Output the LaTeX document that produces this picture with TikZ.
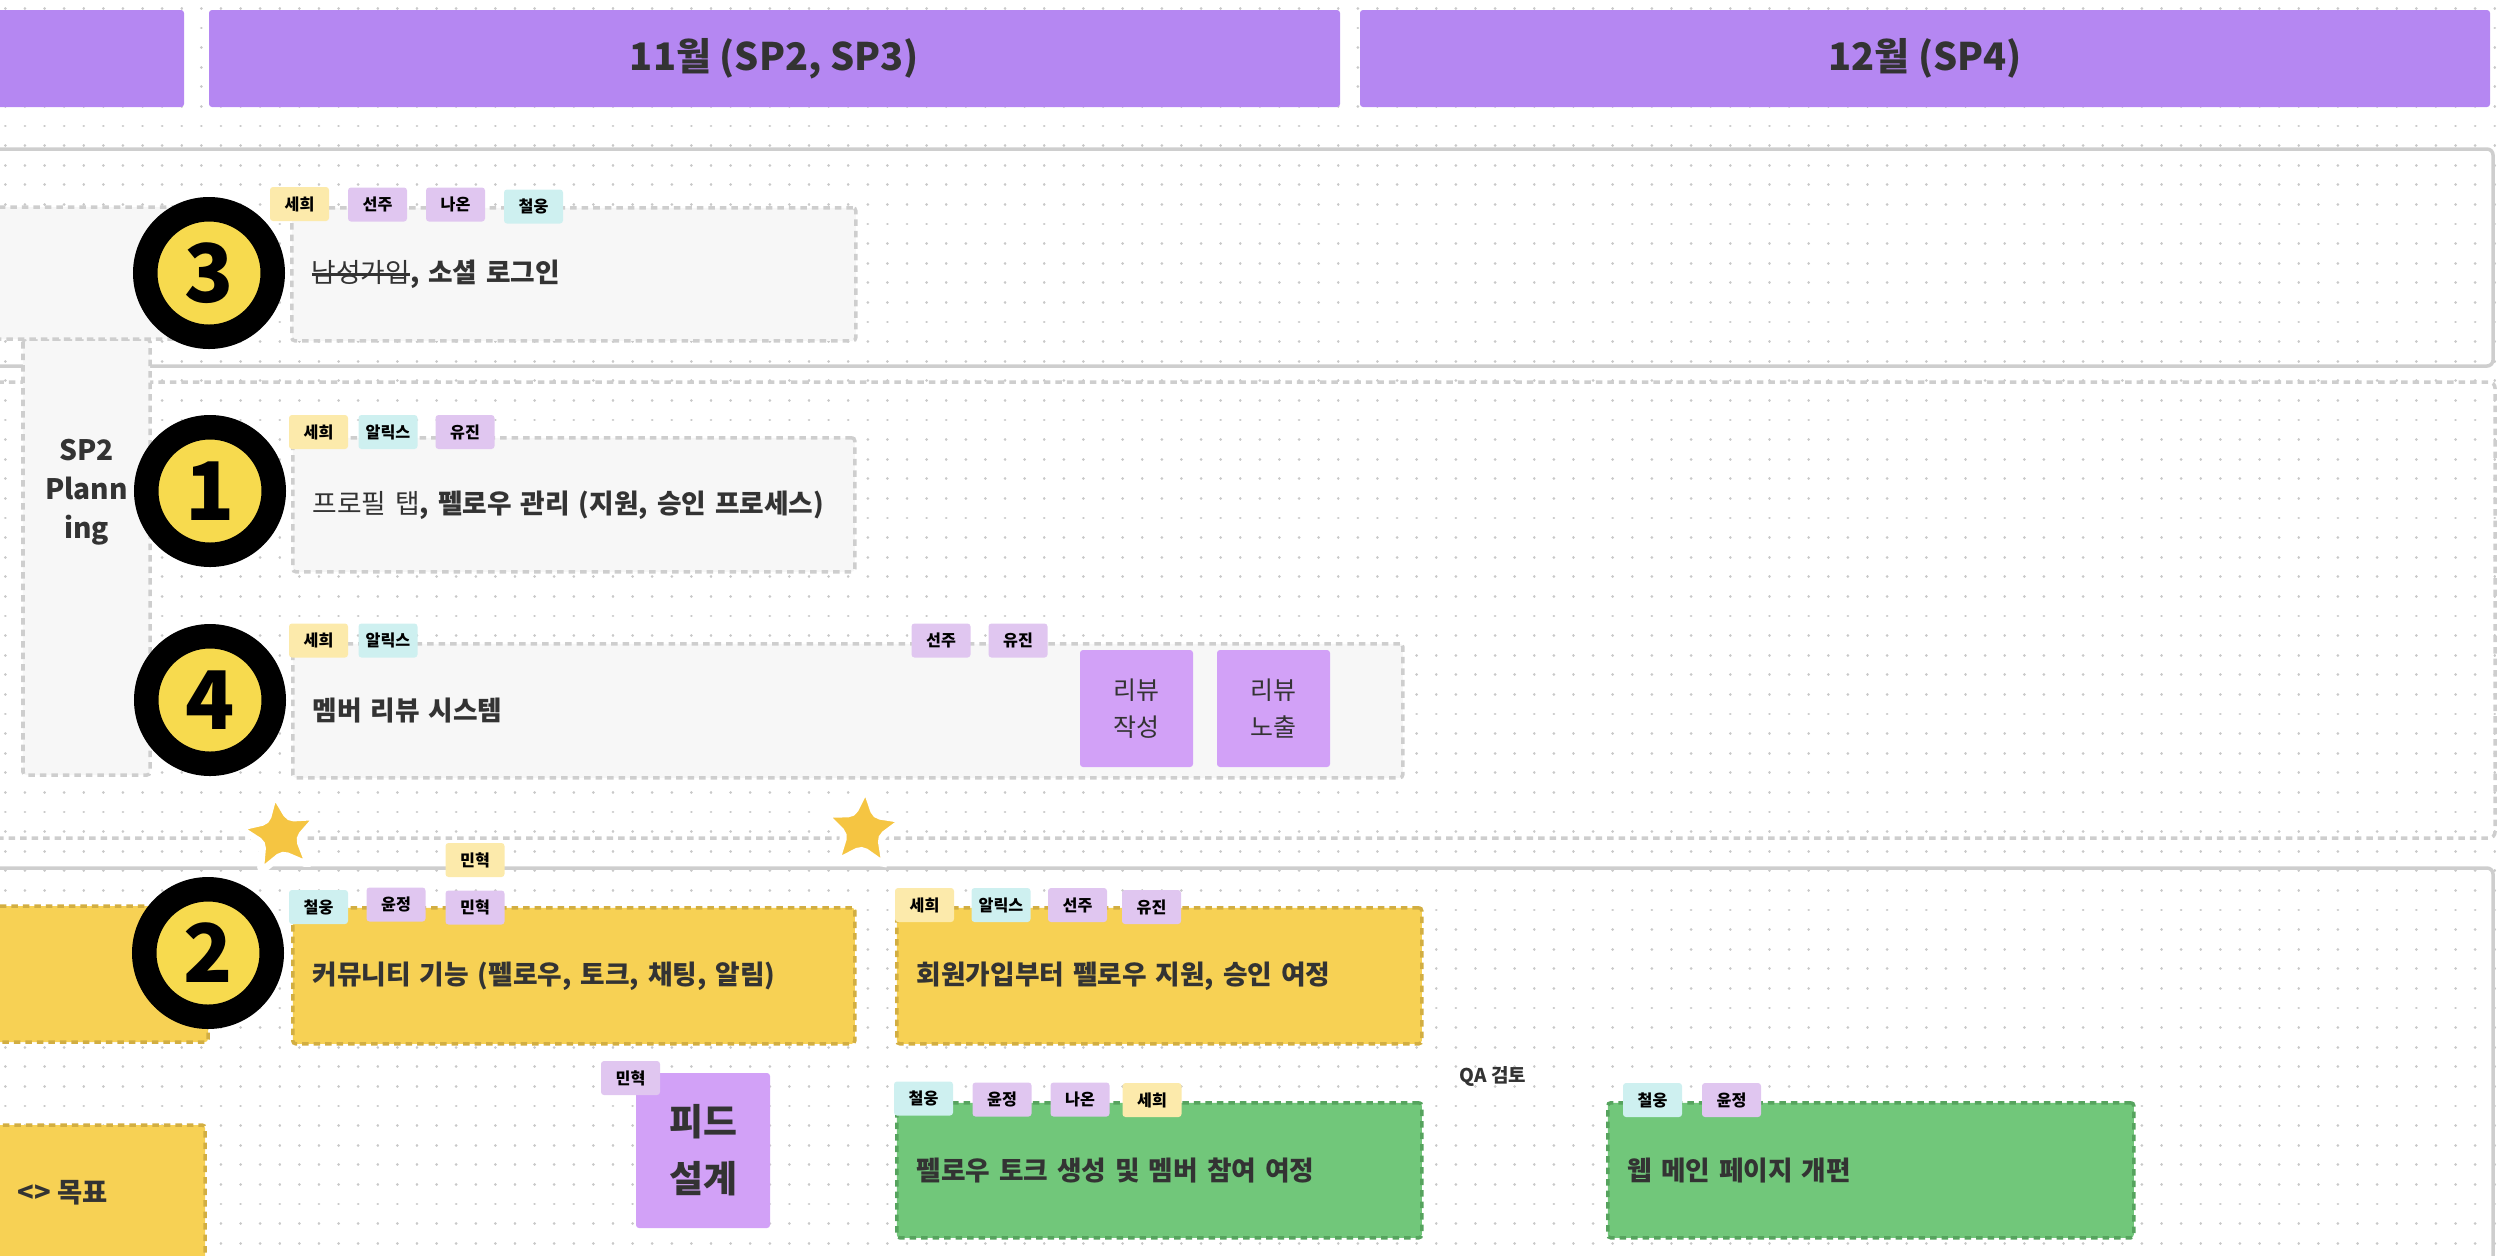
\documentclass[tikz,border=0pt]{standalone}
\usepackage{fontspec}
\setmainfont{Noto Sans CJK KR}
\usepackage{xcolor}
\usepackage{tikz}
\usetikzlibrary{shapes.geometric}
\definecolor{ink}{HTML}{333333}
\definecolor{headpurple}{HTML}{B587F2}
\definecolor{lanegrey}{HTML}{CECECE}
\definecolor{dotgrey}{HTML}{C9C9C9}
\definecolor{boxgrey}{HTML}{F7F7F7}
\definecolor{taskyellow}{HTML}{F7D154}
\definecolor{taskyellowline}{HTML}{D2AE42}
\definecolor{taskgreen}{HTML}{71C77A}
\definecolor{taskgreenline}{HTML}{56A35E}
\definecolor{featpurple}{HTML}{D2A1F7}
\definecolor{tagyellow}{HTML}{FCEAAB}
\definecolor{tagpurple}{HTML}{E0C6F0}
\definecolor{tagcyan}{HTML}{CEF0F0}
\definecolor{badgeyellow}{HTML}{F7DA4E}
\definecolor{stargold}{HTML}{F5C542}
\newcommand{\fsz}[2]{\fontsize{#1}{#2}\selectfont}
\newcommand{\strk}[1]{\setbox0=\hbox{#1}\rlap{\rule[0.25em]{\wd0}{0.09em}}\box0}

\begin{document}
\begin{tikzpicture}[x=1cm,y=-1cm,
  head/.style={fill=headpurple,rounded corners=0.03cm},
  lane/.style={draw=lanegrey,line width=0.035cm,rounded corners=0.06cm},
  dashline/.style={dash pattern=on 0.065cm off 0.05cm},
  greybox/.style={draw=lanegrey,fill=boxgrey,line width=0.035cm,dashline,rounded corners=0.03cm},
  yellowbox/.style={draw=taskyellowline,fill=taskyellow,line width=0.035cm,dashline,rounded corners=0.03cm},
  greenbox/.style={draw=taskgreenline,fill=taskgreen,line width=0.035cm,dashline,rounded corners=0.03cm},
  task/.style={anchor=north west,inner xsep=0.2cm,inner ysep=0pt,align=left,text=ink,font=\fsz{7.6pt}{9pt}},
  tag/.style={minimum width=0.59cm,minimum height=0.34cm,inner sep=0pt,rounded corners=0.03cm,text=black,font=\fsz{4.6pt}{5pt}\bfseries},
  badge/.style={circle,fill=badgeyellow,draw=black,line width=0.245cm,minimum size=1.275cm,inner sep=0pt,text=black,font=\fsz{23pt}{23pt}\bfseries},
  starmark/.style={star,star points=5,star point ratio=2.2,fill=stargold,draw=white,line width=0.07cm,minimum size=0.84cm,inner sep=0pt,rounded corners=0.05cm},
  feat/.style={fill=featpurple,rounded corners=0.03cm,align=center,text=ink,inner sep=0pt}]
  \useasboundingbox (0,0) rectangle (25,12.55);

  \foreach \j in {0,...,63}
    \draw[dotgrey,line width=0.028cm,line cap=round,dash pattern=on 0.001cm off 0.195cm]
      (0.053,{0.084+0.196*\j}) -- (25,{0.084+0.196*\j});

  \fill[head] (-0.1,0.10) rectangle (1.84,1.07);
  \node[head,minimum width=11.31cm,minimum height=0.97cm,text=ink,font=\fsz{10.8pt}{12pt}\bfseries]
    (nov) at (7.745,0.585) {11월 (SP2, SP3)};
  \node[head,minimum width=11.30cm,minimum height=0.97cm,text=ink,font=\fsz{10.8pt}{12pt}\bfseries]
    (dec) at (19.25,0.585) {12월 (SP4)};

  \draw[lane] (-0.5,1.49) rectangle (24.93,3.66);
  \draw[lane,dashline] (-0.5,3.82) rectangle (24.95,8.38);
  \draw[lane] (-0.5,8.68) rectangle (24.93,13.0);

  \draw[greybox] (0.23,3.39) rectangle (1.50,7.75);
  \draw[greybox] (-0.5,2.07) rectangle (2.0,3.39);
  \node[align=center,text=ink,font=\fsz{8pt}{11.1pt}\bfseries] (plan) at (0.865,4.92) {SP2\\Plann\\ing};

  \node[greybox,task,text width=5.24cm,minimum height=1.33cm] (box3) at (2.90,2.06)
    {\strk{남성가입}\textbf{, 소셜 로그인}};
  \node[greybox,task,text width=5.22cm,minimum height=1.34cm] (box1) at (2.91,4.36)
    {프로필 탭\textbf{, 펠로우 관리 (지원, 승인 프로세스)}};
  \node[greybox,task,text width=10.70cm,minimum height=1.34cm] (box4) at (2.91,6.42)
    {\textbf{멤버 리뷰 시스템}};
  \node[feat,minimum width=1.13cm,minimum height=1.17cm,font=\fsz{7.1pt}{10.5pt}] (write) at (11.365,7.085) {리뷰\\작성};
  \node[feat,minimum width=1.13cm,minimum height=1.17cm,font=\fsz{7.1pt}{10.5pt}] (show) at (12.735,7.085) {리뷰\\노출};

  \draw[yellowbox] (-0.5,9.06) rectangle (2.08,10.42);
  \node[yellowbox,task,text width=5.22cm,minimum height=1.36cm] (box2) at (2.91,9.06)
    {\textbf{커뮤니티 기능 (펠로우, 토크, 채팅, 알림)}};
  \node[yellowbox,task,text width=4.85cm,minimum height=1.36cm] (join) at (8.95,9.06)
    {\textbf{회원가입부터 펠로우 지원, 승인 여정}};

  \draw[yellowbox] (-0.5,11.25) rectangle (2.05,13.0);
  \node[anchor=west,text=ink,font=\fsz{7.8pt}{9pt}\bfseries] (goal) at (0.05,11.93) {<> 목표};
  \node[feat,minimum width=1.34cm,minimum height=1.55cm,font=\fsz{10.5pt}{16.2pt}\bfseries] (feed) at (7.03,11.505) {피드\\설계};
  \node[greenbox,task,text width=4.85cm,minimum height=1.35cm] (talk) at (8.95,11.01)
    {\textbf{펠로우 토크 생성 및 멤버 참여 여정}};
  \node[text=ink,font=\fsz{5.4pt}{6pt}\bfseries] (qa) at (14.93,10.76) {QA 검토};
  \node[greenbox,task,text width=4.86cm,minimum height=1.35cm] (web) at (16.06,11.01)
    {\textbf{웹 메인 페이지 개편}};

  \node[badge] (n3) at (2.09,2.73) {3};
  \node[badge] (n1) at (2.10,4.91) {1};
  \node[badge] (n4) at (2.10,7.00) {4};
  \node[badge] (n2) at (2.08,9.53) {2};

  \foreach \n/\x/\y/\c [count=\i] in {세희/2.995/2.04/tagyellow, 선주/3.775/2.045/tagpurple,
      나온/4.555/2.045/tagpurple, 철웅/5.335/2.065/tagcyan}
    \node[tag,fill=\c] (a\i) at (\x,\y) {\n};
  \foreach \n/\x/\y/\c [count=\i] in {세희/3.185/4.32/tagyellow, 알릭스/3.88/4.32/tagcyan,
      유진/4.65/4.32/tagpurple}
    \node[tag,fill=\c] (b\i) at (\x,\y) {\n};
  \foreach \n/\x/\y/\c [count=\i] in {세희/3.185/6.405/tagyellow, 알릭스/3.88/6.405/tagcyan,
      선주/9.41/6.405/tagpurple, 유진/10.18/6.405/tagpurple}
    \node[tag,fill=\c] (c\i) at (\x,\y) {\n};
  \foreach \n/\x/\y/\c [count=\i] in {민혁/4.75/8.60/tagyellow, 철웅/3.185/9.07/tagcyan,
      윤정/3.96/9.045/tagpurple, 민혁/4.75/9.075/tagpurple, 세희/9.245/9.05/tagyellow,
      알릭스/10.01/9.05/tagcyan, 선주/10.775/9.05/tagpurple, 유진/11.515/9.07/tagpurple}
    \node[tag,fill=\c] (d\i) at (\x,\y) {\n};
  \foreach \n/\x/\y/\c [count=\i] in {민혁/6.305/10.78/tagpurple, 철웅/9.235/10.985/tagcyan,
      윤정/10.02/10.995/tagpurple, 나온/10.80/10.995/tagpurple, 세희/11.52/11.00/tagyellow,
      철웅/16.525/11.00/tagcyan, 윤정/17.315/11.00/tagpurple}
    \node[tag,fill=\c] (e\i) at (\x,\y) {\n};

  \node[starmark,rotate=8] (star1) at (2.80,8.35) {};
  \node[starmark,rotate=-4] (star2) at (8.63,8.30) {};
\end{tikzpicture}
\end{document}
